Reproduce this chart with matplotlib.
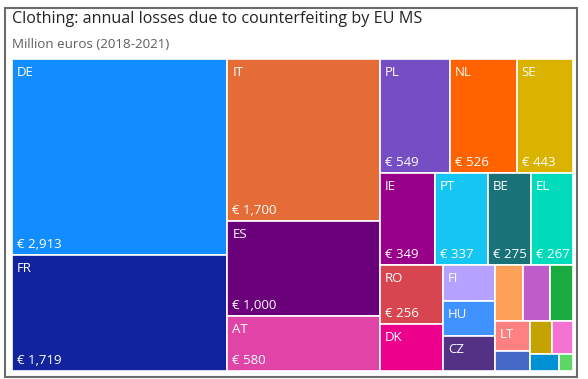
import matplotlib
import matplotlib.pyplot as plt
from matplotlib.patches import Rectangle

matplotlib.use("Agg")
plt.rcParams["font.family"] = ["Open Sans", "DejaVu Sans"]

# Datos: pérdidas anuales (millones de euros) por estado miembro
paises = ["DE", "FR", "IT", "ES", "AT", "PL", "NL", "SE", "IE", "PT", "BE", "EL", "RO",
          "DK", "FI", "HU", "CZ", "SK", "BG", "HR", "LT", "SI", "LV", "EE", "CY", "LU"]
perdidas = [2913, 1719, 1700, 1000, 580, 549, 526, 443, 349, 337, 275, 267, 256,
            204, 127, 126, 124, 107, 104, 89, 74, 50, 49, 48, 34, 17]
colores = ["#118DFF", "#12239E", "#E66C37", "#6B007B", "#E044A7", "#744EC2", "#FF6300",
           "#D9B300", "#99008A", "#15C6F4", "#197278", "#00DBBC", "#D64550", "#EC008C",
           "#B5A1FF", "#4092FF", "#533285", "#FFA058", "#BE5DC9", "#1AAB40", "#FF8080",
           "#4668C5", "#C4A200", "#F472D0", "#0091D5", "#5BD667"]

titulo = "Clothing: annual losses due to counterfeiting by EU MS"
subtitulo = "Million euros (2018-2021)"


def squarify(valores, x0, y0, x1, y1, ratio=(1 + 5 ** 0.5) / 2):
    # Algoritmo squarify (igual que d3), y hacia abajo
    n = len(valores)
    rects = [None] * n
    total = float(sum(valores))
    i0 = i1 = 0
    while i0 < n:
        dx, dy = x1 - x0, y1 - y0
        suma = valores[i1]
        i1 += 1
        vmin = vmax = suma
        alpha = max(dy / dx, dx / dy) / (total * ratio)
        beta = suma * suma * alpha
        mejor = max(vmax / beta, beta / vmin)
        while i1 < n:
            v = valores[i1]
            suma += v
            vmin = min(vmin, v)
            vmax = max(vmax, v)
            beta = suma * suma * alpha
            nuevo = max(vmax / beta, beta / vmin)
            if nuevo > mejor:
                suma -= v
                break
            mejor = nuevo
            i1 += 1
        if dx < dy:
            alto = dy * suma / total
            x = x0
            for i in range(i0, i1):
                ancho = dx * valores[i] / suma
                rects[i] = (x, y0, ancho, alto)
                x += ancho
            y0 += alto
        else:
            ancho = dx * suma / total
            y = y0
            for i in range(i0, i1):
                alto = dy * valores[i] / suma
                rects[i] = (x0, y, ancho, alto)
                y += alto
            x0 += ancho
        total -= suma
        i0 = i1
    return rects


fig = plt.figure(figsize=(5.88, 3.79), dpi=100)

# Marco gris de la tarjeta
fig.add_artist(Rectangle((5 / 588, 2 / 379), 571.5 / 588, 369 / 379, transform=fig.transFigure,
                         facecolor="none", edgecolor="#6b6b6b", linewidth=1.5))

fig.text(12 / 588, 1 - 19 / 379, titulo, fontsize=11.6, color="#252423", va="center")
fig.text(12 / 588, 1 - 44 / 379, subtitulo, fontsize=9.6, color="#605E5C", va="center")

W, H = 561, 312
ax = fig.add_axes([12 / 588, 8 / 379, W / 588, H / 379])
ax.set_xlim(0, W)
ax.set_ylim(H, 0)
ax.axis("off")

rects = squarify(perdidas, 0, 0, W, H)

for nombre, valor, color, (x, y, w, h) in zip(paises, perdidas, colores, rects):
    ax.add_patch(Rectangle((x, y), w, h, facecolor=color, edgecolor="white", linewidth=1.2))
    if w >= 30 and h >= 25:
        ax.annotate(nombre, xy=(x, y), xytext=(5, -7), textcoords="offset pixels",
                    ha="left", va="top", color="white", fontsize=9.5)
    if w >= 40 and h >= 52:
        ax.annotate("€ {:,}".format(valor), xy=(x, y + h), xytext=(5, 4), textcoords="offset pixels",
                    ha="left", va="bottom", color="white", fontsize=9.5)

plt.savefig("out.png", dpi=100)
